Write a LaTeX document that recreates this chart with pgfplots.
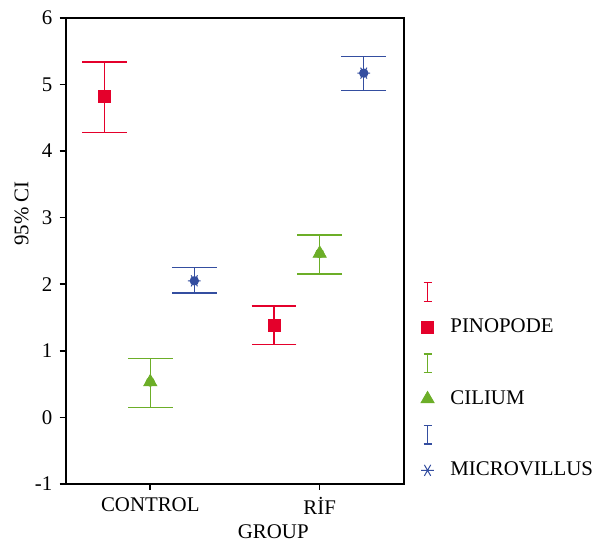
\documentclass[border=0pt]{standalone}
\usepackage{fontspec}
\setmainfont{Liberation Serif}
\usepackage{pgfplots}
\pgfplotsset{compat=1.18}

\definecolor{cred}{RGB}{228,0,43}
\definecolor{cgreen}{RGB}{108,174,40}
\definecolor{cblue}{RGB}{52,78,160}

% x y plus minus
\pgfplotstableread{
x y ep em
0.73 4.82 0.52 0.54
1.73 1.38 0.29 0.29
}\pinopode
\pgfplotstableread{
x y ep em
1.00 0.53 0.35 0.38
2.00 2.46 0.28 0.31
}\cilium
\pgfplotstableread{
x y ep em
1.26 2.05 0.20 0.18
2.26 5.17 0.25 0.26
}\microvillus

\pgfplotsset{
  errimg/.style={legend image code/.code={
    \path[draw=none,fill=none] (-6pt,-0.2cm) rectangle (11pt,0.2cm);
    \draw[##1,solid,line width=0.7pt] (0pt,-4.7pt) -- (0pt,4.7pt)
      (-2pt,-4.7pt) -- (2pt,-4.7pt) (-2pt,4.7pt) -- (2pt,4.7pt);}},
  markimg/.style={legend image code/.code={
    \path[draw=none,fill=none] (-6pt,-0.2cm) rectangle (11pt,0.2cm);
    \draw[##1] plot coordinates {(0pt,0pt)};}},
  errs/.style={only marks, mark=none, line width=0.7pt,
    error bars/y dir=both, error bars/y explicit, error bars/error mark=-,
    error bars/error bar style={line width=0.75pt},
    error bars/error mark options={mark size=11.25pt, line width=0.75pt, rotate=90}},
}

\begin{document}
\fontsize{10.5}{12.6}\selectfont
\begin{tikzpicture}
\begin{axis}[
  scale only axis,
  width=170.5pt, height=234.5pt,
  xmin=0.5, xmax=2.5,
  ymin=-1, ymax=6,
  xtick={1,2}, xticklabels={CONTROL,RİF},
  ytick={-1,0,...,6},
  tick align=outside,
  xtick pos=bottom, ytick pos=left,
  major tick length=3pt,
  axis line style={line width=1pt},
  tick style={line width=0.8pt, black},
  /pgf/number format/assume math mode=true,
  ylabel={95\% CI},
  xlabel={GROUP},
  xlabel style={at={(axis description cs:0.613,0)}, anchor=north, yshift=-17pt},
  ylabel style={at={(ticklabel cs:0.58)}, yshift=-4pt},
  legend style={at={(1.032,0.437)}, anchor=north west, draw=none,
    fill=none, row sep=6pt, inner sep=0pt, nodes={inner xsep=0.5pt},
    font=\fontsize{10.5}{12.6}\selectfont},
  legend cell align=left,
]
\addplot[cred, errs, errimg] table[x=x, y=y, y error plus=ep, y error minus=em] {\pinopode};
\addlegendentry{}
\addplot[cred, only marks, mark=square*, mark size=3pt, markimg] table[x=x, y=y] {\pinopode};
\addlegendentry{PINOPODE}
\addplot[cgreen, errs, errimg] table[x=x, y=y, y error plus=ep, y error minus=em] {\cilium};
\addlegendentry{}
\addplot[cgreen, only marks, mark=triangle*, mark size=3.8pt, markimg] table[x=x, y=y] {\cilium};
\addlegendentry{CILIUM}
\addplot[cblue, errs, errimg] table[x=x, y=y, y error plus=ep, y error minus=em] {\microvillus};
\addlegendentry{}
\addplot[cblue, only marks, mark=asterisk, mark size=3.2pt, mark options={rotate=90, line width=0.5pt}, markimg] table[x=x, y=y] {\microvillus};
\addlegendentry{MICROVILLUS}
\end{axis}
\path ([xshift=-33pt]current axis.south west) ([yshift=9pt]current axis.north);
\end{tikzpicture}
\end{document}
